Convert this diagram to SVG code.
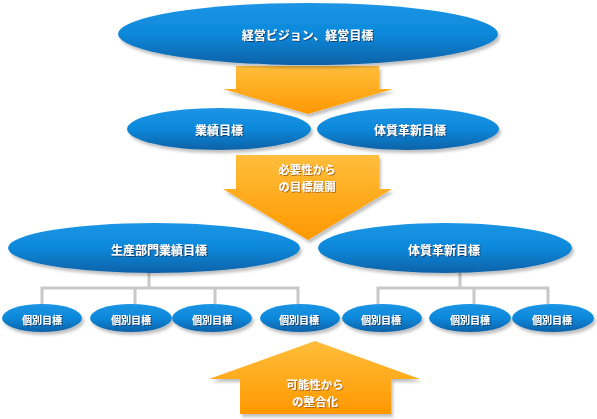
<svg xmlns="http://www.w3.org/2000/svg" width="597" height="419" viewBox="0 0 597 419">
<defs>
<linearGradient id="gb" x1="0" y1="0" x2="0" y2="1">
<stop offset="0" stop-color="#1c95e4"/>
<stop offset="0.5" stop-color="#0d88da"/>
<stop offset="1" stop-color="#0a62a8"/>
</linearGradient>
<linearGradient id="go" x1="0" y1="0" x2="0" y2="1">
<stop offset="0" stop-color="#ffbe3c"/>
<stop offset="1" stop-color="#ff9800"/>
</linearGradient>
<filter id="sh" x="-10%" y="-20%" width="125%" height="150%">
<feDropShadow dx="2" dy="3" stdDeviation="1.6" flood-color="#000" flood-opacity="0.25"/>
</filter>
<filter id="ts" x="-10%" y="-30%" width="120%" height="160%">
<feDropShadow dx="1" dy="1" stdDeviation="0.6" flood-color="#0a3a66" flood-opacity="0.9"/>
</filter>
<filter id="tso" x="-10%" y="-30%" width="120%" height="160%">
<feDropShadow dx="1" dy="1" stdDeviation="0.6" flood-color="#a05a00" flood-opacity="0.8"/>
</filter>
</defs>
<style>
.e{fill:url(#gb);filter:url(#sh)}
.a{fill:url(#go);filter:url(#sh)}
.t{font-family:'Noto Sans CJK JP',sans-serif;font-weight:bold;fill:#fff;text-anchor:middle;dominant-baseline:central;filter:url(#ts)}
.to{font-family:'Noto Sans CJK JP',sans-serif;font-weight:bold;fill:#fff;text-anchor:middle;dominant-baseline:central;filter:url(#tso);font-size:11.5px}
.l{font-size:12px}
.s{font-size:10px}
.c{fill:none;stroke:#c8c8c8;stroke-width:3}
</style>

<g id="arrow1"><polygon class="a" points="236,66 379,66 379,89 393,89 308,114 223,89 236,89"/></g>
<g id="arrow2"><polygon class="a" points="236,155 379,155 379,189 392,189 308,240 223,189 236,189"/>
<text class="to" x="307" y="169">必要性から</text>
<text class="to" x="307" y="185.5">の目標展開</text></g>

<g id="connectors">
<path class="c" d="M149,272 V288 M42,304 V288 H298 V304 M135,288 V304 M215,288 V304"/>
<path class="c" d="M460,272 V288 M378,304 V288 H548 V304 M474,288 V304"/>
</g>

<g id="top"><ellipse class="e" cx="308" cy="34" rx="190" ry="31"/>
<text class="t l" x="307.5" y="34">経営ビジョン、経営目標</text></g>

<g id="n-gyoseki"><ellipse class="e" cx="219" cy="129" rx="92" ry="21"/>
<text class="t l" x="219" y="129">業績目標</text></g>
<g id="n-taishitsu1"><ellipse class="e" cx="408" cy="129" rx="91" ry="21"/>
<text class="t l" x="410" y="129">体質革新目標</text></g>

<g id="n-seisan"><ellipse class="e" cx="154" cy="248" rx="146" ry="25"/>
<text class="t l" x="159" y="249">生産部門業績目標</text></g>
<g id="n-taishitsu2"><ellipse class="e" cx="445" cy="248" rx="127" ry="25"/>
<text class="t l" x="444" y="249">体質革新目標</text></g>

<g id="k1"><ellipse class="e" cx="42" cy="318" rx="40" ry="14"/><text class="t s" x="42" y="319">個別目標</text></g>
<g id="k2"><ellipse class="e" cx="131" cy="318" rx="41" ry="14"/><text class="t s" x="131" y="319">個別目標</text></g>
<g id="k3"><ellipse class="e" cx="212" cy="318" rx="40" ry="14"/><text class="t s" x="212" y="319">個別目標</text></g>
<g id="k4"><ellipse class="e" cx="300" cy="318" rx="40" ry="14"/><text class="t s" x="299" y="319">個別目標</text></g>
<g id="k5"><ellipse class="e" cx="382" cy="318" rx="40" ry="14"/><text class="t s" x="381" y="319">個別目標</text></g>
<g id="k6"><ellipse class="e" cx="470" cy="318" rx="41" ry="14"/><text class="t s" x="470" y="319">個別目標</text></g>
<g id="k7"><ellipse class="e" cx="553" cy="318" rx="41" ry="14"/><text class="t s" x="552" y="319">個別目標</text></g>

<g id="arrow3"><polygon class="a" points="315,341 420,379 391,379 391,414 240,414 240,379 209,379"/>
<text class="to" x="315" y="384">可能性から</text>
<text class="to" x="315" y="400.5">の整合化</text></g>
</svg>
